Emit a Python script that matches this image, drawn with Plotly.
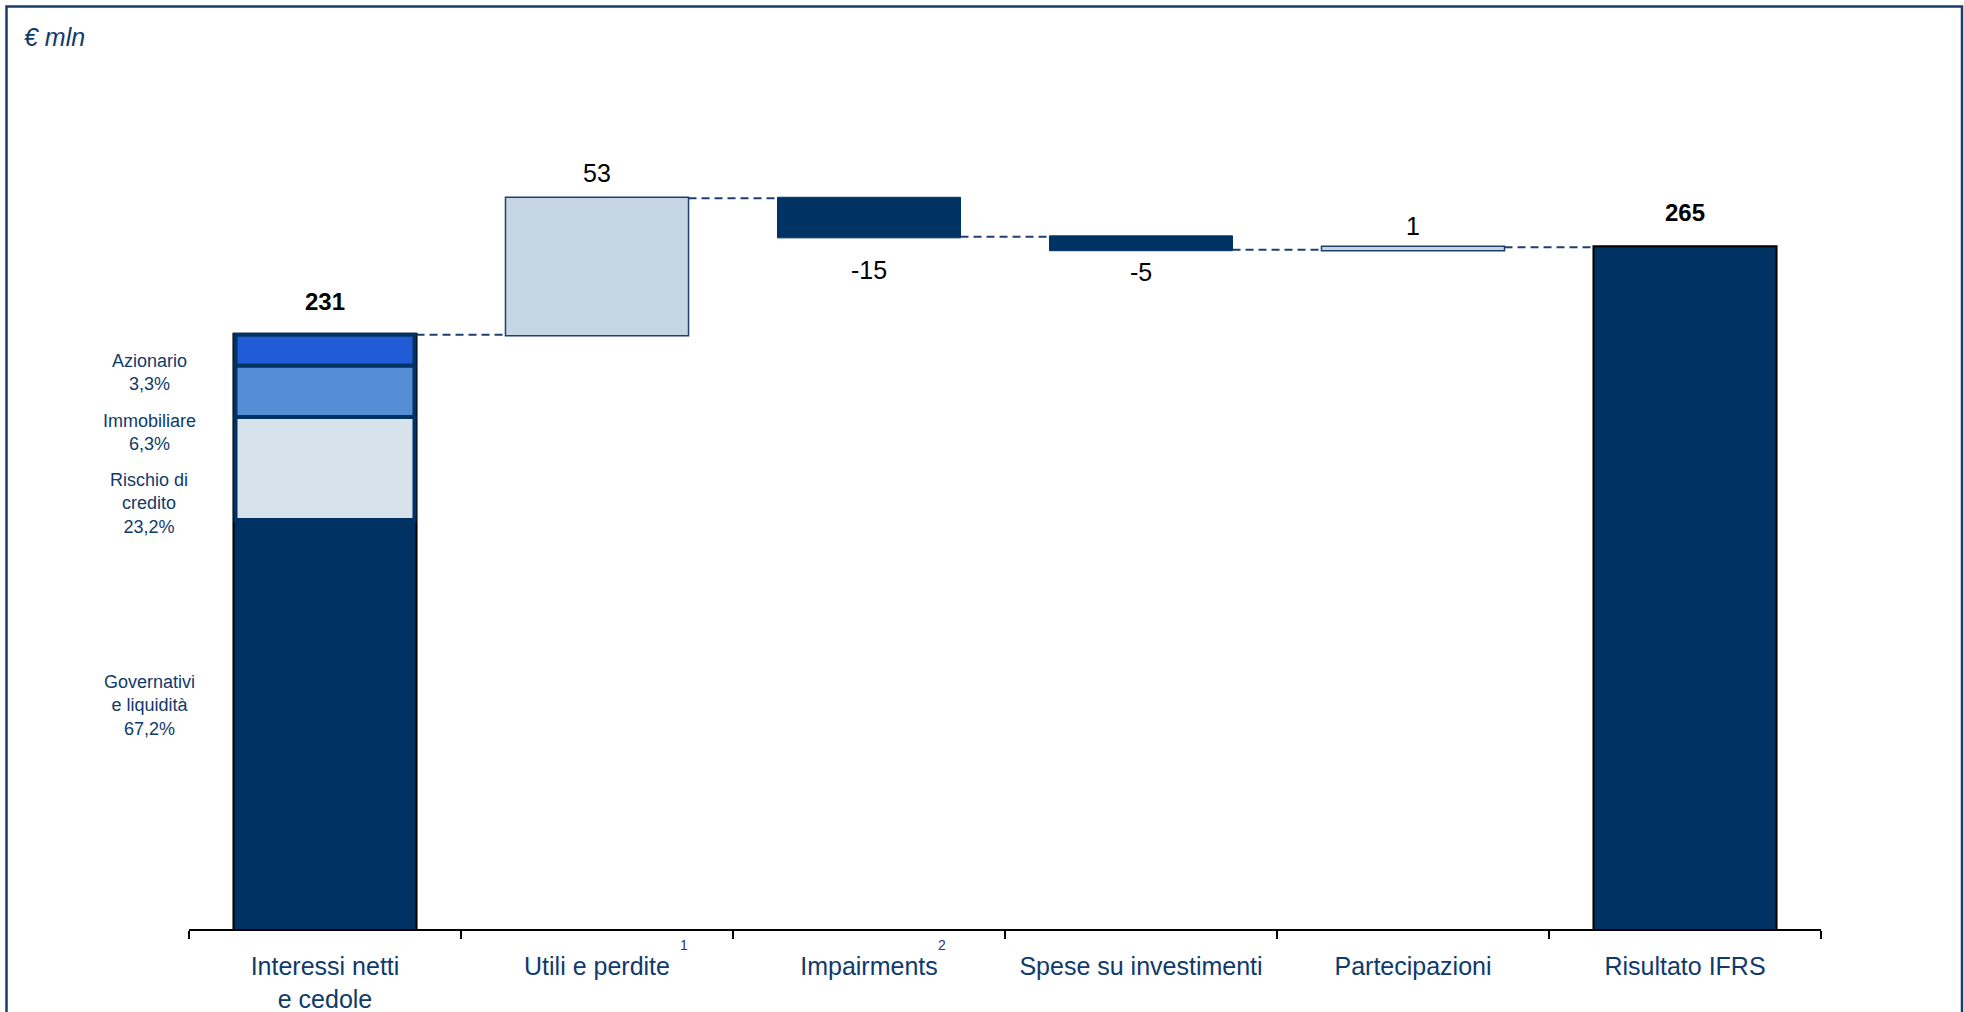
import plotly.graph_objects as go

# ---------------- data ----------------
categories = ["Interessi netti<br>e cedole", "Utili e perdite", "Impairments",
              "Spese su investimenti", "Partecipazioni", "Risultato IFRS"]
footnotes = ["", "1", "2", "", "", ""]
measures = ["absolute", "relative", "relative", "relative", "relative", "total"]
values = [231, 53, -15, -5, 1, 0]

seg_names = ["Governativi<br>e liquidità", "Rischio di<br>credito", "Immobiliare", "Azionario"]
seg_pct = ["67,2%", "23,2%", "6,3%", "3,3%"]
seg_heights = [159, 40, 20, 12]   # as drawn inside the first bar

# ---------------- style ----------------
NAVY = "#003263"
LINE_NAVY = "#1f3f6e"
TEXT_NAVY = "#0f3a6b"
LIGHT = "#c5d5e4"
seg_colors = [NAVY, "#d7e2eb", "#558ed5", "#215bd6"]
seg_label_y = [86.7, 165.2, 192.8, 216.1]
label_shift = [33, 25, -33, -22, 21, 35]
footnote_xshift = [0, 87, 73, 0, 0, 0]
FONT = "Liberation Sans, Arial, sans-serif"

W, H = 1964, 1012
ML, MR, MT, MB = 189, 143, 60, 83
PX_PER_UNIT = 2.573
plot_h = H - MT - MB
plot_w = W - ML - MR

fig = go.Figure()
fig.add_trace(go.Waterfall(
    x=categories, y=values, measure=measures,
    connector=dict(mode="between", line=dict(color=LINE_NAVY, width=2, dash="8px,5px")),
    increasing=dict(marker=dict(color=LIGHT, line=dict(color=LINE_NAVY, width=1.5))),
    decreasing=dict(marker=dict(color=NAVY, line=dict(color=NAVY, width=1))),
    totals=dict(marker=dict(color=NAVY, line=dict(color="black", width=2))),
    textinfo="none", hoverinfo="skip",
))

# segments of the first bar
base = 0
for i, h in enumerate(seg_heights):
    fig.add_trace(go.Bar(
        x=[categories[0]], y=[h], base=[base], width=0.658,
        marker=dict(color=seg_colors[i],
                    line=dict(color=NAVY, width=0 if i == 0 else 4)),
        hoverinfo="skip",
    ))
    fig.add_annotation(
        x=categories[0], y=seg_label_y[i], xref="x", yref="y", xshift=-176,
        text=seg_names[i] + "<br>" + seg_pct[i], showarrow=False, align="center",
        font=dict(family=FONT, size=18, color=TEXT_NAVY),
    )
    base += h

# value labels
running = 0
for i, (m, v) in enumerate(zip(measures, values)):
    if m == "absolute":
        running = v
        delta = v
    elif m == "relative":
        running += v
        delta = v
    else:
        delta = running
    bold = m != "relative"
    txt = "%d" % delta
    fig.add_annotation(
        x=categories[i], y=running, xref="x", yref="y", yshift=label_shift[i],
        text="<b>%s</b>" % txt if bold else txt, showarrow=False,
        font=dict(family=FONT, size=24 if bold else 25, color="black"),
    )

# footnote markers next to tick labels
for i, fn in enumerate(footnotes):
    if fn:
        fig.add_annotation(
            x=categories[i], y=0, xref="x", yref="paper", xshift=footnote_xshift[i],
            yshift=-16, yanchor="middle", text=fn, showarrow=False,
            font=dict(family=FONT, size=14, color="#2e3192"),
        )

# unit label
fig.add_annotation(
    x=(22 - ML) / plot_w, y=(H - MB - 37) / plot_h, xref="paper", yref="paper",
    xanchor="left", yanchor="middle", text="<i>€ mln</i>", showarrow=False,
    font=dict(family=FONT, size=25, color=TEXT_NAVY),
)

# frame
fig.add_shape(
    type="rect", xref="paper", yref="paper",
    x0=(6.5 - ML) / plot_w, x1=(1962 - ML) / plot_w,
    y0=(H - MB - 1030) / plot_h, y1=(H - MB - 6.5) / plot_h,
    line=dict(color="#1b3d6b", width=2.5), fillcolor="rgba(0,0,0,0)", layer="below",
)

fig.update_layout(
    width=W, height=H,
    margin=dict(l=ML, r=MR, t=MT, b=MB, autoexpand=False),
    paper_bgcolor="white", plot_bgcolor="white",
    showlegend=False, barmode="overlay", waterfallgap=0.327,
    xaxis=dict(type="category", categoryorder="array", categoryarray=categories,
               range=[-0.5, 5.5], tickson="boundaries", ticks="outside",
               ticklen=8, tickwidth=1.5, tickcolor="black", automargin=False,
               showline=True, linecolor="black", linewidth=2,
               showgrid=False, zeroline=False, ticklabelstandoff=14,
               tickfont=dict(family=FONT, size=25, color=TEXT_NAVY), fixedrange=True),
    yaxis=dict(visible=False, range=[0, plot_h / PX_PER_UNIT], fixedrange=True,
               automargin=False),
)

fig.write_html("out.html")
